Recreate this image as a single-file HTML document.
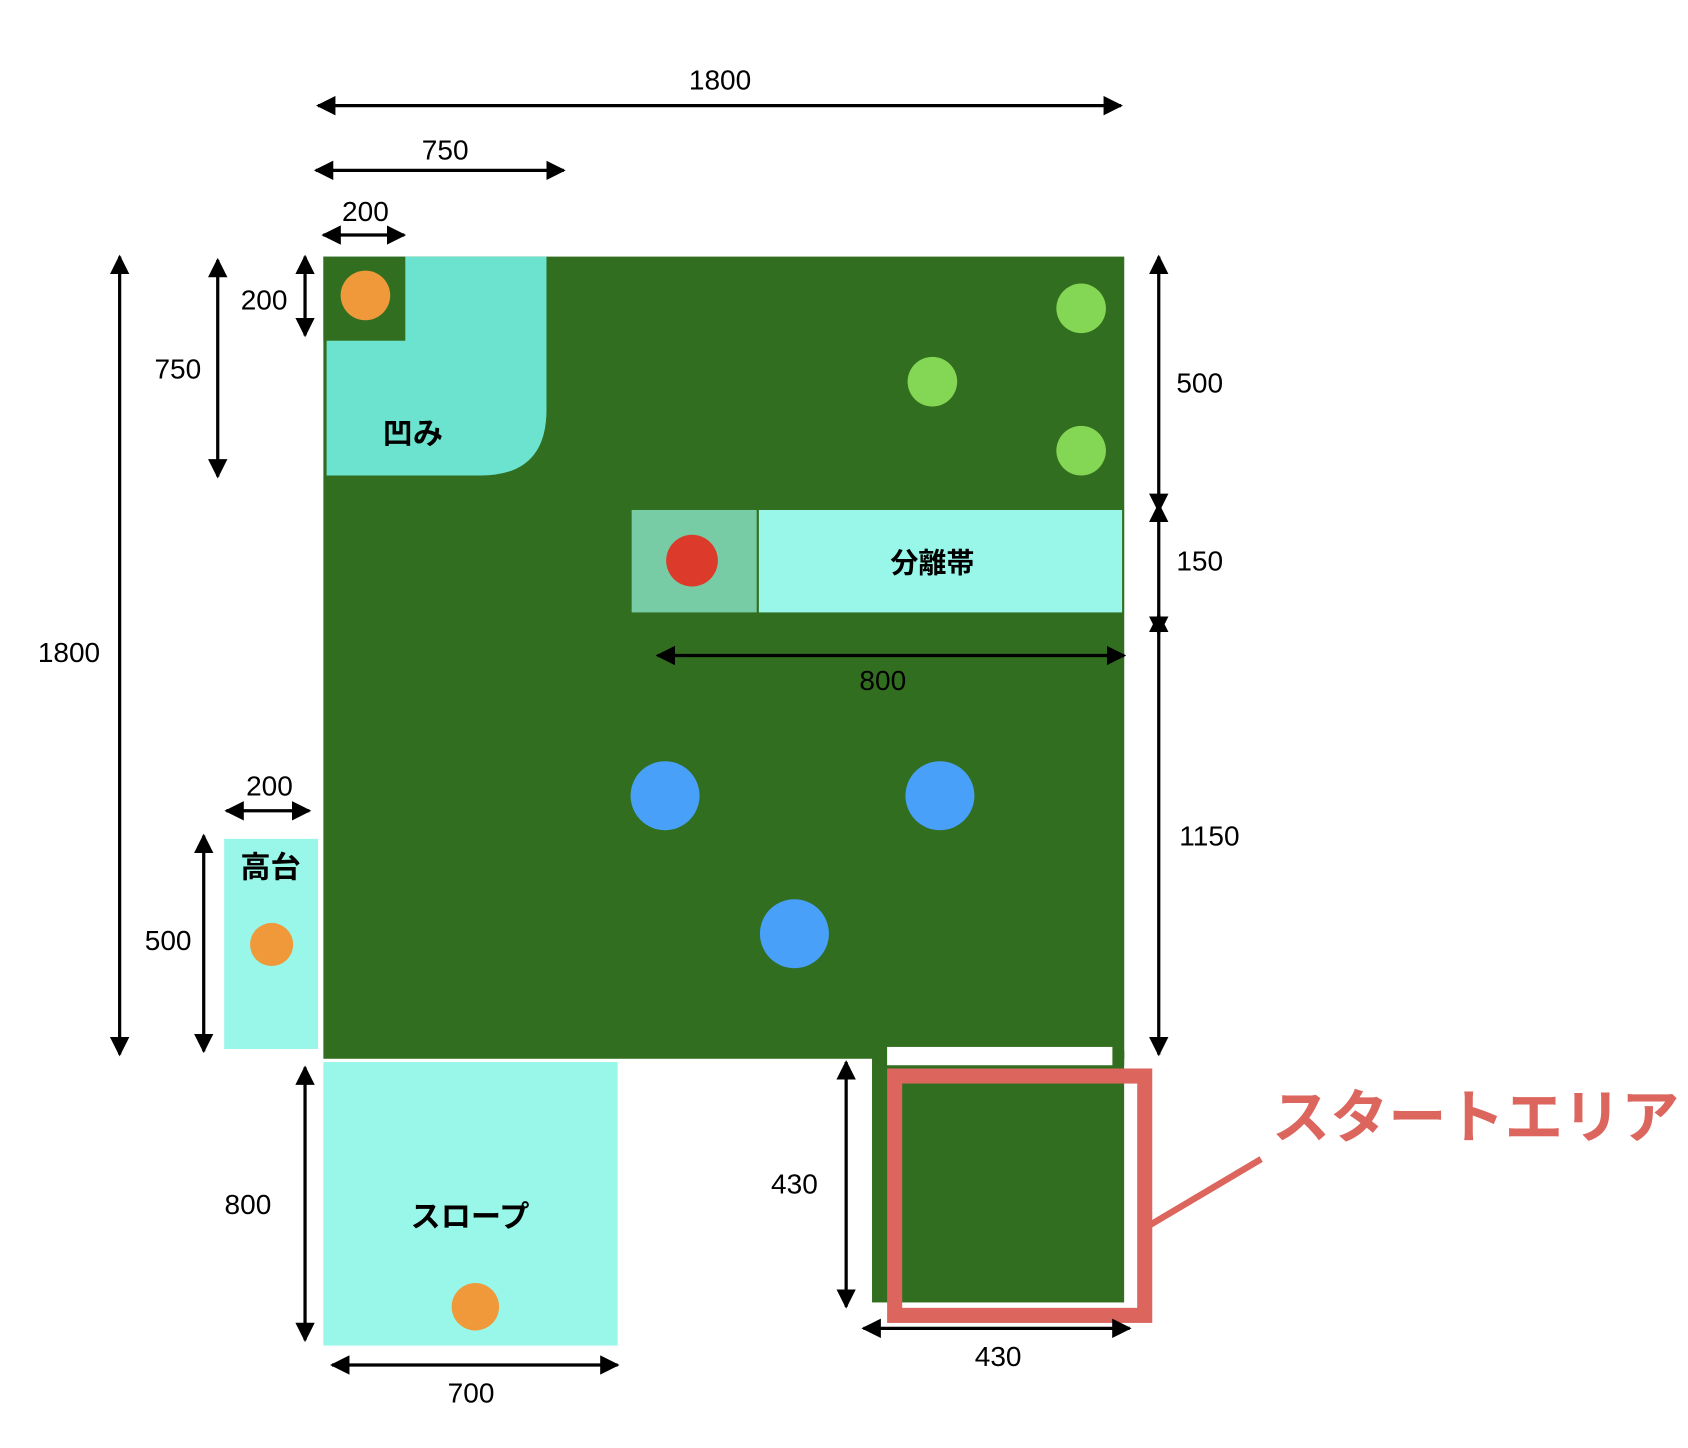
<!DOCTYPE html>
<html><head><meta charset="utf-8"><style>
html,body{margin:0;padding:0;background:#fff;}
svg{display:block;}
text{font-family:"Liberation Sans","Noto Sans CJK JP",sans-serif;fill:#000;}
</style></head><body>
<svg width="1688" height="1448" viewBox="0 0 1566 1343" preserveAspectRatio="none" xmlns="http://www.w3.org/2000/svg">
<defs>
<marker id="a" viewBox="0 0 10 10" refX="9" refY="5" markerWidth="6" markerHeight="6" orient="auto-start-reverse" markerUnits="strokeWidth">
<path d="M0,0 L10,5 L0,10 z" fill="#000"/></marker>
</defs>
<rect width="1566" height="1343" fill="#fff"/>
<rect x="300" y="238" width="743" height="744" fill="#316e1f"/>
<path d="M303,238 H507 V380 Q507,441 446,441 H303 Z" fill="#6ce3cf"/>
<rect x="300" y="238" width="76" height="78" fill="#316e1f"/>
<circle cx="339" cy="274" r="23" fill="#f0993a"/>
<text x="383" y="412" font-size="28" font-weight="bold" text-anchor="middle">凹み</text>
<circle cx="1003" cy="286" r="23" fill="#84d655"/>
<circle cx="865" cy="354" r="23" fill="#84d655"/>
<circle cx="1003" cy="418" r="23" fill="#84d655"/>
<rect x="586" y="473" width="116" height="95" fill="#78cca5"/>
<circle cx="642" cy="520" r="24" fill="#dc3a2a"/>
<rect x="704" y="473" width="337" height="95" fill="#98f7e8"/>
<text x="865" y="531" font-size="26" font-weight="bold" text-anchor="middle">分離帯</text>
<circle cx="617" cy="738" r="32" fill="#48a0f8"/>
<circle cx="872" cy="738" r="32" fill="#48a0f8"/>
<circle cx="737" cy="866" r="32" fill="#48a0f8"/>
<rect x="208" y="778" width="87" height="195" fill="#98f7e8"/>
<text x="251" y="814" font-size="28" font-weight="bold" text-anchor="middle">高台</text>
<circle cx="252" cy="876" r="20" fill="#f0993a"/>
<rect x="300" y="985" width="273" height="263" fill="#98f7e8"/>
<text x="436" y="1138" font-size="28" font-weight="bold" text-anchor="middle">スロープ</text>
<circle cx="441" cy="1212" r="22" fill="#f0993a"/>
<rect x="809" y="975" width="234" height="233" fill="#316e1f"/>
<rect x="823" y="971" width="209" height="17" fill="#fff"/>
<rect x="1043" y="988" width="14" height="230" fill="#fff"/>
<rect x="830" y="998" width="232" height="222" fill="none" stroke="#dc665e" stroke-width="14"/>
<line x1="1057" y1="1142" x2="1170" y2="1075" stroke="#dc665e" stroke-width="6"/>
<text x="1180" y="1055" font-size="54" font-weight="bold" style="fill:#dc665e">スタートエリア</text>
<g stroke="#000" stroke-width="3" fill="none">
<line x1="295" y1="98" x2="1040" y2="98" marker-start="url(#a)" marker-end="url(#a)"/>
<line x1="293" y1="158" x2="523" y2="158" marker-start="url(#a)" marker-end="url(#a)"/>
<line x1="300" y1="218" x2="375" y2="218" marker-start="url(#a)" marker-end="url(#a)"/>
<line x1="111" y1="238" x2="111" y2="978" marker-start="url(#a)" marker-end="url(#a)"/>
<line x1="202" y1="241" x2="202" y2="442" marker-start="url(#a)" marker-end="url(#a)"/>
<line x1="283" y1="238" x2="283" y2="311" marker-start="url(#a)" marker-end="url(#a)"/>
<line x1="1075" y1="238" x2="1075" y2="474" marker-start="url(#a)" marker-end="url(#a)"/>
<line x1="1075" y1="468" x2="1075" y2="588" marker-start="url(#a)" marker-end="url(#a)"/>
<line x1="1075" y1="570" x2="1075" y2="978" marker-start="url(#a)" marker-end="url(#a)"/>
<line x1="610" y1="608" x2="1043" y2="608" marker-start="url(#a)" marker-end="url(#a)"/>
<line x1="210" y1="752" x2="287" y2="752" marker-start="url(#a)" marker-end="url(#a)"/>
<line x1="189" y1="775" x2="189" y2="975" marker-start="url(#a)" marker-end="url(#a)"/>
<line x1="283" y1="990" x2="283" y2="1243" marker-start="url(#a)" marker-end="url(#a)"/>
<line x1="308" y1="1266" x2="573" y2="1266" marker-start="url(#a)" marker-end="url(#a)"/>
<line x1="785" y1="985" x2="785" y2="1212" marker-start="url(#a)" marker-end="url(#a)"/>
<line x1="801" y1="1232" x2="1048" y2="1232" marker-start="url(#a)" marker-end="url(#a)"/>
</g>
<g font-size="26" text-anchor="middle">
<text x="668" y="83">1800</text>
<text x="413" y="148">750</text>
<text x="339" y="205">200</text>
<text x="64" y="614">1800</text>
<text x="165" y="351">750</text>
<text x="245" y="287">200</text>
<text x="1113" y="364">500</text>
<text x="1113" y="529">150</text>
<text x="1122" y="784">1150</text>
<text x="819" y="640">800</text>
<text x="250" y="738">200</text>
<text x="156" y="881">500</text>
<text x="230" y="1126">800</text>
<text x="437" y="1301">700</text>
<text x="737" y="1107">430</text>
<text x="926" y="1267">430</text>
</g>
</svg>
</body></html>
